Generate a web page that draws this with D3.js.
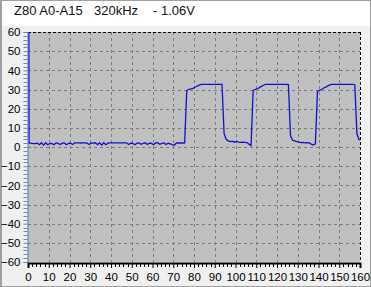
<!DOCTYPE html>
<html>
<head>
<meta charset="utf-8">
<script src="https://cdn.jsdelivr.net/npm/d3@7"></script>
<style>
  html, body { margin: 0; padding: 0; background: #f0f0f0; }
  svg { display: block; font-family: "Liberation Sans", Arial, sans-serif; }
</style>
</head>
<body>
<div id="scope_chart"></div>
<script>
// title pieces
var titleParts = ["Z80 A0-A15", "320kHz", "- 1.06V"]

// axis ticks
var xTicks = [0, 10, 20, 30, 40, 50, 60, 70, 80, 90, 100, 110, 120, 130, 140, 150, 160]
var yTicks = [60, 50, 40, 30, 20, 10, 0, -10, -20, -30, -40, -50, -60]

// trigger spike coming down from the top edge
var spikeTime = 0.4
var spikeVolts = 60

// samples: one per unit, first at t = 0.5
var sampleStart = 0.5
var sampleStep = 1
var volts = [
    2.0,
    // idle low level, t 1.5 .. 75.5
    2.0, 1.8, 1.8, 2.0, 1.2, 2.2, 1.0, 2.2, 1.2, 1.8,
    1.9, 1.2, 2.1, 1.9, 1.3, 2.0, 2.1, 1.2, 1.9, 2.0,
    1.3, 2.2, 2.2, 2.2, 2.1, 2.2, 2.2, 2.0, 1.3, 2.1,
    2.0, 2.2, 1.2, 2.2, 1.0, 2.2, 1.2, 2.0, 2.2, 2.2,
    2.2, 2.2, 2.2, 2.2, 2.2, 2.2, 2.2, 1.3, 2.0, 1.9,
    1.2, 2.0, 2.1, 1.4, 1.9, 2.2, 1.3, 2.0, 1.9, 1.2,
    2.1, 2.2, 1.4, 1.9, 2.1, 1.3, 2.0, 1.6, 1.2, 0.9,
    2.1, 2.1, 2.1, 2.1, 2.2,
    // pulse 1, t 76.5 .. 93.5
    29.4, 30.1, 30.3, 30.6, 31.2, 31.8, 32.3, 32.7, 32.7, 32.7,
    32.7, 32.7, 32.7, 32.7, 32.7, 32.7, 32.7, 32.7,
    // low, t 94.5 .. 107.5
    7.0, 4.0, 3.2, 2.8, 3.0, 2.5, 2.9, 2.6, 2.4, 2.5,
    2.4, 2.3, 1.5, 0.8,
    // pulse 2, t 108.5 .. 125.5
    29.5, 30.0, 30.4, 31.0, 31.6, 32.2, 32.7, 32.7, 32.7, 32.7,
    32.7, 32.7, 32.7, 32.7, 32.7, 32.7, 32.7, 32.6,
    // low, t 126.5 .. 138.5
    6.0, 3.5, 3.2, 2.8, 2.6, 2.3, 2.4, 2.2, 2.3, 2.1,
    1.5, 1.0, 1.6,
    // pulse 3, t 139.5 .. 157.5
    29.0, 29.6, 30.0, 30.8, 31.2, 31.9, 32.4, 32.7, 32.7, 32.7,
    32.7, 32.7, 32.7, 32.7, 32.7, 32.7, 32.7, 32.7, 32.5,
    // tail, t 158.5 ..
    7.0, 3.8, 3.8
]

var width = 371
var height = 287
var margin = { left: 28, right: 11, top: 32, bottom: 25 }

var svg = d3.select("#scope_chart")
    .append("svg")
    .attr("width", width)
    .attr("height", height)

// outer frame + header
svg.append("rect").attr("x", 0).attr("y", 0).attr("width", width).attr("height", height).attr("fill", "#f0f0f0")
svg.append("rect").attr("x", 2).attr("y", 1).attr("width", width - 3).attr("height", 25).attr("fill", "#ffffff")
svg.append("rect").attr("x", 0.5).attr("y", 0.5).attr("width", width - 1).attr("height", height - 1)
    .attr("fill", "none").attr("stroke", "#a0a0a0")
svg.append("line").attr("x1", 1.5).attr("x2", 1.5).attr("y1", 0).attr("y2", height).attr("stroke", "#a0a0a0")

var x = d3.scaleLinear().domain([0, 160]).range([margin.left, width - margin.right])
var y = d3.scaleLinear().domain([-60, 60]).range([height - margin.bottom, margin.top])

// title
var titleX = [14, 94, 153]
svg.append("g")
    .selectAll("text")
    .data(titleParts)
    .enter()
    .append("text")
    .attr("x", (d, i) => titleX[i])
    .attr("y", 15)
    .attr("font-size", "13px")
    .attr("fill", "#111")
    .text(d => d)

// plot background
svg.append("rect")
    .attr("x", x(0)).attr("y", y(60))
    .attr("width", x(160) - x(0)).attr("height", y(-60) - y(60))
    .attr("fill", "#c0c0c0")

// grid
var grid = svg.append("g")
grid.selectAll(".gx")
    .data(xTicks.filter(d => d > 0 && d < 160))
    .enter()
    .append("line")
    .attr("x1", d => Math.round(x(d)) + 0.5).attr("x2", d => Math.round(x(d)) + 0.5)
    .attr("y1", y(60)).attr("y2", y(-60))
    .attr("stroke", "#7c7c7c").attr("stroke-dasharray", "3,3")
grid.selectAll(".gy")
    .data(yTicks.filter(d => d > -60 && d < 60))
    .enter()
    .append("line")
    .attr("x1", x(0)).attr("x2", x(160))
    .attr("y1", d => Math.round(y(d)) + 0.5).attr("y2", d => Math.round(y(d)) + 0.5)
    .attr("stroke", "#7c7c7c").attr("stroke-dasharray", "3,3")

// top and right border
svg.append("line").attr("x1", x(0)).attr("x2", x(160)).attr("y1", Math.round(y(60)) + 0.5).attr("y2", Math.round(y(60)) + 0.5)
    .attr("stroke", "#000").attr("stroke-dasharray", "3,2")
svg.append("line").attr("x1", Math.round(x(160)) + 0.5).attr("x2", Math.round(x(160)) + 0.5).attr("y1", y(60)).attr("y2", y(-60))
    .attr("stroke", "#000").attr("stroke-dasharray", "3,2")

// clip
svg.append("clipPath").attr("id", "plotClip")
    .append("rect")
    .attr("x", x(0)).attr("y", y(60) - 1)
    .attr("width", x(160) - x(0) + 1).attr("height", y(-60) - y(60) + 2)

// signal
var points = [[spikeTime, spikeVolts]].concat(volts.map((v, i) => [sampleStart + i * sampleStep, v]))
var line = d3.line()
    .x(d => x(d[0]))
    .y(d => y(d[1]))

svg.append("path")
    .datum(points)
    .attr("clip-path", "url(#plotClip)")
    .attr("d", line)
    .attr("fill", "none")
    .attr("stroke", "#1010cc")
    .attr("stroke-width", 1.3)

// y axis
var yAxis = d3.axisLeft(y)
    .tickValues(yTicks)
    .tickSize(4)
    .tickPadding(3)
    .tickFormat(d3.format("d"))
var yg = svg.append("g")
    .attr("transform", "translate(" + (x(0) - 0.5) + ",0)")
    .call(yAxis)
yg.select(".domain").attr("stroke", "#4a78c0")
yg.selectAll(".tick line").attr("stroke", "#6a88b8")
yg.selectAll(".tick text").attr("font-size", "11.5px").attr("font-family", "Liberation Sans, Arial, sans-serif").attr("fill", "#000")
yg.append("g")
    .selectAll("line")
    .data(d3.range(-60, 61, 2).filter(d => d % 10 !== 0))
    .enter()
    .append("line")
    .attr("x1", -4).attr("x2", 0)
    .attr("y1", d => Math.round(y(d)) + 0.5).attr("y2", d => Math.round(y(d)) + 0.5)
    .attr("stroke", "#6a88b8")

// x axis
var xAxis = d3.axisBottom(x)
    .tickValues(xTicks)
    .tickSize(5)
    .tickPadding(5)
    .tickFormat(d3.format("d"))
var xg = svg.append("g")
    .attr("transform", "translate(0," + (y(-60) + 1) + ")")
    .call(xAxis)
xg.select(".domain").attr("stroke", "#000").attr("stroke-width", 2)
xg.selectAll(".tick line").attr("stroke", "#000")
xg.selectAll(".tick text").attr("font-size", "11.5px").attr("font-family", "Liberation Sans, Arial, sans-serif").attr("fill", "#000")
xg.append("g")
    .selectAll("line")
    .data(d3.range(0, 161, 2).filter(d => d % 10 !== 0))
    .enter()
    .append("line")
    .attr("x1", d => Math.round(x(d)) + 0.5).attr("x2", d => Math.round(x(d)) + 0.5)
    .attr("y1", 0).attr("y2", 4)
    .attr("stroke", "#000")
</script>
</body>
</html>
